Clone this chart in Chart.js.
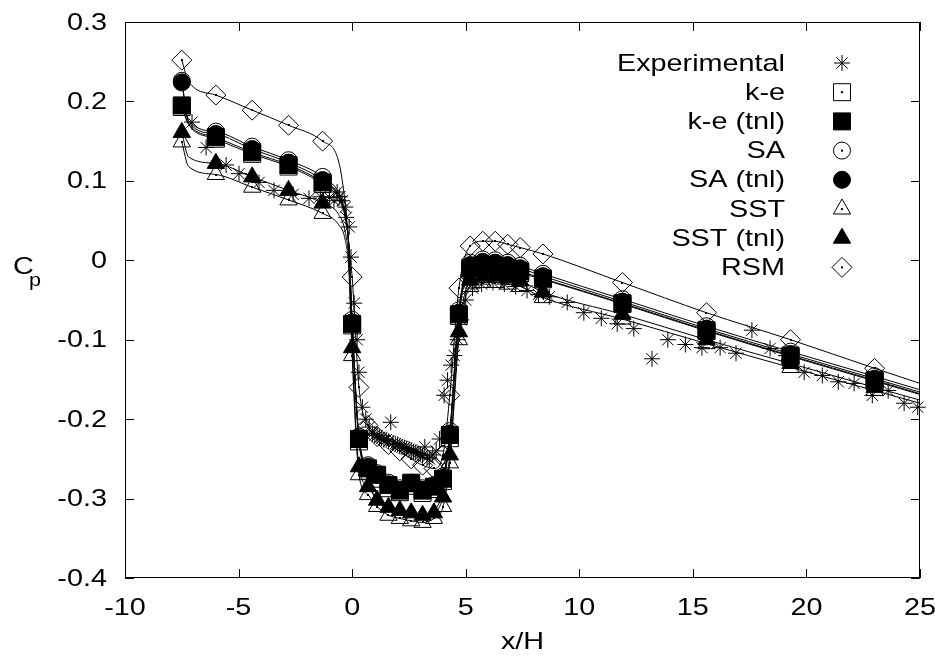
<!DOCTYPE html>
<html>
<head>
<meta charset="utf-8">
<script src="https://cdn.jsdelivr.net/npm/chart.js@4/dist/chart.umd.min.js"></script>
<style>
    html, body { margin: 0; padding: 0; background: #fff; }
    #wrap { width: 935px; height: 662px; }
</style>
</head>
<body>
<div id="wrap"><canvas id="cp-chart" width="935" height="662"></canvas></div>
<script>
/* Wall pressure coefficient vs x/H — experiment and turbulence models */
(function () {
    "use strict";

    var xTicks = [-10, -5, 0, 5, 10, 15, 20, 25];
    var yTicks = [-0.4, -0.3, -0.2, -0.1, 0, 0.1, 0.2, 0.3];

    /* Experimental points */
    var expX = [-7.05, -6.43, -5.55, -4.98, -4.1, -3.44, -2.6, -1.9, -1.4, -1.0, -0.8, -0.66, -0.55, -0.44, -0.3, -0.26, -0.13, -0.05, 0.09, 0.22,
        0.3, 0.45, 0.6, 0.75, 0.9, 1.0, 1.1, 1.2, 1.3, 1.4, 1.5, 1.6, 1.7, 1.8, 1.9, 2.0, 2.1, 2.2, 2.3, 2.4,
        2.5, 2.6, 2.7, 2.8, 2.9, 3.0, 3.1, 3.2, 3.3, 3.4, 3.55, 3.7, 3.85, 4.05, 4.2, 4.36, 4.5, 4.65, 4.8, 5.0,
        5.3, 5.7, 6.2, 6.7, 7.2, 7.7, 8.2, 8.68, 9.47, 10.2, 10.97, 11.67, 12.4, 13.2, 13.9, 14.67, 15.4, 16.2, 16.9, 17.6,
        18.4, 19.1, 19.9, 20.7, 21.4, 22.1, 22.9, 23.6, 24.3, 24.9];
    var expY = [0.174, 0.142, 0.12, 0.109, 0.098, 0.088, 0.083, 0.078, 0.08, 0.079, 0.075, 0.086, 0.08, 0.075, 0.067, 0.054, 0.042, 0.004, -0.054, -0.1,
        -0.141, -0.185, -0.2, -0.21, -0.218, -0.22, -0.221, -0.223, -0.224, -0.226, -0.226, -0.228, -0.204, -0.23, -0.231, -0.232, -0.234, -0.235, -0.236, -0.237,
        -0.238, -0.239, -0.241, -0.242, -0.243, -0.244, -0.246, -0.235, -0.248, -0.25, -0.245, -0.24, -0.225, -0.17, -0.151, -0.132, -0.12, -0.1, -0.075, -0.05,
        -0.035, -0.03, -0.028, -0.03, -0.033, -0.038, -0.043, -0.046, -0.053, -0.066, -0.073, -0.08, -0.086, -0.124, -0.1, -0.106, -0.11, -0.11, -0.117, -0.088,
        -0.111, -0.12, -0.141, -0.145, -0.153, -0.155, -0.17, -0.164, -0.18, -0.185];

    /* Model curves share one x grid; marked = 1 where a symbol is drawn */
    var gridX = [-7.5, -7.2, -6, -4.4, -2.8, -1.3, -0.6, -0.3, -0.15, 0, 0.3, 0.7, 1.1, 1.6, 2.1, 2.6,
        3.1, 3.6, 4.0, 4.3, 4.7, 5.2, 5.75, 6.3, 6.85, 7.4, 8.4, 11.9, 15.6, 19.3, 23, 25];
    var marked = [1, 0, 1, 1, 1, 1, 0, 0, 0, 1, 1, 1, 1, 1, 1, 1,
        1, 1, 1, 1, 1, 1, 1, 1, 1, 1, 1, 1, 1, 1, 1, 0];

    var keY = [0.193, 0.171, 0.153, 0.134, 0.118, 0.096, 0.078, 0.053, 0.018, -0.082, -0.228, -0.265, -0.275, -0.287, -0.292, -0.284,
        -0.293, -0.288, -0.278, -0.224, -0.07, -0.012, -0.008, -0.009, -0.012, -0.016, -0.024, -0.055, -0.089, -0.121, -0.152, -0.169];
    var keTnlY = [0.195, 0.172, 0.155, 0.136, 0.12, 0.098, 0.08, 0.055, 0.02, -0.08, -0.225, -0.262, -0.27, -0.283, -0.29, -0.28,
        -0.29, -0.285, -0.275, -0.22, -0.068, -0.01, -0.006, -0.007, -0.01, -0.014, -0.023, -0.054, -0.088, -0.12, -0.151, -0.168];
    var saY = [0.226, 0.176, 0.162, 0.143, 0.126, 0.105, 0.085, 0.058, 0.022, -0.075, -0.222, -0.258, -0.268, -0.28, -0.287, -0.28,
        -0.287, -0.283, -0.272, -0.215, -0.063, -0.003, 0.001, 0.0, -0.003, -0.007, -0.017, -0.049, -0.083, -0.115, -0.146, -0.163];
    var saTnlY = [0.224, 0.174, 0.159, 0.14, 0.123, 0.101, 0.082, 0.056, 0.02, -0.078, -0.224, -0.26, -0.27, -0.282, -0.289, -0.281,
        -0.289, -0.284, -0.274, -0.218, -0.066, -0.006, -0.002, -0.003, -0.006, -0.01, -0.02, -0.052, -0.086, -0.118, -0.149, -0.166];
    var sstY = [0.149, 0.118, 0.108, 0.092, 0.076, 0.059, 0.045, 0.025, -0.01, -0.12, -0.27, -0.295, -0.31, -0.321, -0.325, -0.328,
        -0.33, -0.325, -0.31, -0.255, -0.1, -0.033, -0.028, -0.028, -0.03, -0.033, -0.047, -0.074, -0.105, -0.135, -0.164, -0.18];
    var sstTnlY = [0.161, 0.13, 0.122, 0.105, 0.088, 0.072, 0.058, 0.035, 0.0, -0.11, -0.26, -0.285, -0.302, -0.311, -0.315, -0.318,
        -0.321, -0.318, -0.298, -0.245, -0.09, -0.025, -0.02, -0.02, -0.022, -0.026, -0.04, -0.068, -0.1, -0.13, -0.16, -0.176];
    var rsmY = [0.252, 0.225, 0.208, 0.189, 0.17, 0.15, 0.125, 0.07, 0.02, -0.021, -0.16, -0.208, -0.222, -0.232, -0.24, -0.25,
        -0.258, -0.262, -0.245, -0.17, -0.035, 0.018, 0.024, 0.024, 0.02, 0.016, 0.008, -0.028, -0.066, -0.1, -0.136, -0.155];

    var FONT = "'Liberation Sans', Arial, Helvetica, sans-serif";
    var SX = 1.2; /* the original lettering is a bit wide */
    var legendX = 785, legendSym = 842, legendTop = 63, legendStep = 29.2;

    function pts(xs, ys) {
        return xs.map(function (x, i) { return { x: x, y: ys[i] }; });
    }

    function modelSet(label, ys, style, radius, filled, order) {
        return {
            label: label,
            data: pts(gridX, ys),
            showLine: true,
            borderColor: "#000",
            borderWidth: 1,
            cubicInterpolationMode: "monotone",
            pointStyle: style,
            pointRadius: gridX.map(function (x, i) { return marked[i] ? radius : 0; }),
            pointHoverRadius: 0,
            pointBorderColor: "#000",
            pointBorderWidth: 1,
            pointBackgroundColor: filled ? "#000" : "rgba(0,0,0,0)",
            fill: false,
            clip: false,
            order: order,
            openDot: !filled,
            symRadius: radius,
            symFilled: filled
        };
    }

    var datasets = [
        {
            label: "Experimental",
            data: pts(expX, expY),
            showLine: false,
            pointStyle: "star",
            pointRadius: 8,
            pointHoverRadius: 0,
            pointBorderColor: "#000",
            pointBorderWidth: 1,
            clip: false,
            order: 20,
            openDot: false,
            symRadius: 8,
            symFilled: false
        },
        modelSet("k-e", keY, "rect", 12, false, 19),
        modelSet("k-e (tnl)", keTnlY, "rect", 12, true, 18),
        modelSet("SA", saY, "circle", 8.5, false, 17),
        modelSet("SA (tnl)", saTnlY, "circle", 8.5, true, 16),
        modelSet("SST", sstY, "triangle", 10, false, 15),
        modelSet("SST (tnl)", sstTnlY, "triangle", 10, true, 14),
        modelSet("RSM", rsmY, "rectRot", 10, false, 13)
    ];

    function drawSymbol(ctx, ds, x, y) {
        ctx.save();
        ctx.strokeStyle = "#000";
        ctx.fillStyle = ds.symFilled ? "#000" : "rgba(0,0,0,0)";
        ctx.lineWidth = 1;
        Chart.helpers.drawPoint(ctx, {
            pointStyle: ds.pointStyle, radius: ds.symRadius, rotation: 0, borderWidth: 1
        }, x, y);
        if (ds.openDot) {
            ctx.fillStyle = "#000";
            ctx.fillRect(x - 1, y - 1, 2, 2);
        }
        ctx.restore();
    }

    /* text stretched horizontally around its anchor */
    function wideText(ctx, s, x, y, align, size) {
        ctx.save();
        ctx.font = size + "px " + FONT;
        ctx.textAlign = align;
        ctx.textBaseline = "middle";
        ctx.translate(x, y);
        ctx.scale(SX, 1);
        ctx.fillText(s, 0, 0);
        ctx.restore();
    }

    /* gnuplot look: full frame, inward ticks, key inside, axis labels */
    var framePlugin = {
        id: "frame",
        afterDatasetsDraw: function (chart) {
            var ctx = chart.ctx;
            var a = chart.chartArea;
            var xs = chart.scales.x, ys = chart.scales.y;
            ctx.save();

            /* centre dots on open symbols */
            ctx.fillStyle = "#000";
            chart.data.datasets.forEach(function (ds, i) {
                if (!ds.openDot) return;
                chart.getDatasetMeta(i).data.forEach(function (el, j) {
                    if (!marked[j]) return;
                    ctx.fillRect(Math.round(el.x) - 1, Math.round(el.y) - 1, 2, 2);
                });
            });

            ctx.strokeStyle = "#000";
            ctx.lineWidth = 1;
            ctx.strokeRect(Math.round(a.left) + 0.5, Math.round(a.top) + 0.5,
                Math.round(a.right - a.left) - 1, Math.round(a.bottom - a.top) - 1);

            var t = 9;
            ctx.beginPath();
            xTicks.forEach(function (v) {
                var px = Math.round(xs.getPixelForValue(v)) + 0.5;
                ctx.moveTo(px, a.bottom); ctx.lineTo(px, a.bottom - t);
                ctx.moveTo(px, a.top); ctx.lineTo(px, a.top + t);
            });
            yTicks.forEach(function (v) {
                var py = Math.round(ys.getPixelForValue(v)) + 0.5;
                ctx.moveTo(a.left, py); ctx.lineTo(a.left + t, py);
                ctx.moveTo(a.right, py); ctx.lineTo(a.right - t, py);
            });
            ctx.stroke();

            /* tick labels */
            ctx.fillStyle = "#000";
            xTicks.forEach(function (v) {
                wideText(ctx, String(v), xs.getPixelForValue(v), a.bottom + 30, "center", 24);
            });
            yTicks.forEach(function (v) {
                wideText(ctx, String(Math.round(v * 10) / 10), a.left - 18, ys.getPixelForValue(v) + 1, "right", 24);
            });

            /* key */
            chart.data.datasets.forEach(function (ds, i) {
                var y = legendTop + i * legendStep;
                wideText(ctx, ds.label, legendX, y + 1, "right", 24);
                drawSymbol(ctx, ds, legendSym, y);
            });

            /* axis titles */
            wideText(ctx, "x/H", (a.left + a.right) / 2, 642, "center", 24);
            wideText(ctx, "C", 13, 267, "left", 24);
            wideText(ctx, "p", 29, 281, "left", 18);
            ctx.restore();
        }
    };

    new Chart(document.getElementById("cp-chart").getContext("2d"), {
        type: "scatter",
        data: { datasets: datasets },
        options: {
            responsive: false,
            animation: false,
            devicePixelRatio: 1,
            layout: { padding: { top: 22, right: 15, left: 0, bottom: 0 } },
            plugins: { legend: { display: false }, tooltip: { enabled: false } },
            events: [],
            scales: {
                x: {
                    type: "linear",
                    min: -10,
                    max: 25,
                    afterFit: function (s) { s.height = 84; },
                    grid: { display: false, drawTicks: false },
                    border: { display: false },
                    ticks: { display: false }
                },
                y: {
                    type: "linear",
                    min: -0.4,
                    max: 0.3,
                    afterFit: function (s) { s.width = 125; },
                    grid: { display: false, drawTicks: false },
                    border: { display: false },
                    ticks: { display: false }
                }
            }
        },
        plugins: [framePlugin]
    });
})();
</script>
</body>
</html>
